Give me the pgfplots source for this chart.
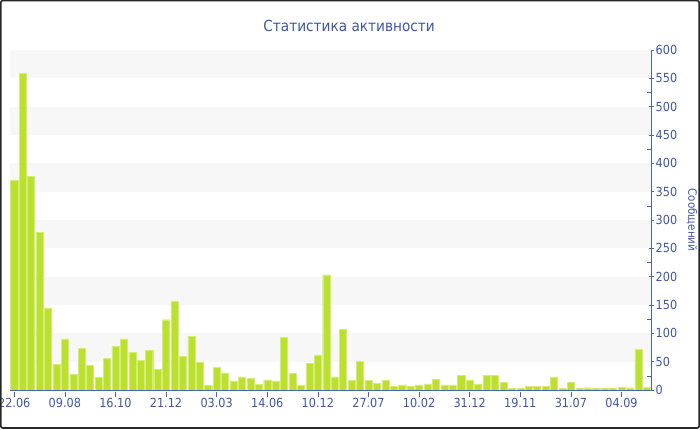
\documentclass[border=0pt]{standalone}
\usepackage{pgfplots}
\pgfplotsset{compat=1.18}
\usepackage{fontspec}
\setmainfont{DejaVu Sans}[FakeStretch=0.9]
\definecolor{txt}{RGB}{64,86,163}
\definecolor{axc}{RGB}{74,100,176}
\definecolor{barc}{RGB}{187,224,47}
\definecolor{baredge}{RGB}{212,237,118}
\definecolor{band}{RGB}{247,247,247}
\pgfplotstableread{
i v
0 370
1 559
2 377
3 278
4 145
5 46
6 90
7 28
8 73
9 43
10 23
11 56
12 77
13 90
14 67
15 52
16 70
17 37
18 124
19 156
20 59
21 95
22 49
23 8
24 40
25 30
26 16
27 23
28 20
29 10
30 18
31 16
32 93
33 29
34 9
35 47
36 62
37 203
38 23
39 107
40 17
41 50
42 17
43 12
44 17
45 7
46 9
47 7
48 9
49 11
50 19
51 9
52 9
53 26
54 18
55 11
56 26
57 26
58 13
59 3
60 3
61 7
62 7
63 7
64 23
65 3
66 14
67 3
68 4
69 3
70 3
71 3
72 5
73 4
74 72
75 5
}\activity
\begin{document}
\begin{tikzpicture}[x=1pt,y=1pt]
\useasboundingbox (0,0) rectangle (700,430);
\begin{axis}[
  at={(10pt,40pt)}, anchor=south west,
  scale only axis, width=641pt, height=340pt,
  xmin=-0.5, xmax=75.5, ymin=0, ymax=600,
  axis x line*=bottom, axis y line*=right,
  axis line style={axc, line width=0.8pt},
  ytick={0,50,...,600}, minor y tick num=1,
  xtick={0,6,...,72},
  xticklabels={22.06,09.08,16.10,21.12,03.03,14.06,10.12,27.07,10.02,31.12,19.11,31.07,04.09},
  /pgf/number format/assume math mode=true,
  tick style={axc, line width=0.6pt},
  tick align=center, major tick length=5pt, minor tick length=4pt,
  every major x tick/.append style={yshift=-2.5pt},
  every minor y tick/.append style={xshift=-2pt},
  ticklabel style={font=\fontsize{12.5}{14}\selectfont, text=txt},
  yticklabel style={anchor=west, inner sep=0pt, xshift=2pt, font=\fontsize{12.5}{14}\selectfont, text=txt},
  xticklabel style={anchor=north, inner sep=0pt, yshift=-3pt},
  ylabel={Сообщений},
  every axis y label/.style={at={(axis description cs:1.064,0.5)}, rotate=-90, anchor=center, font=\fontsize{11.5}{13}\selectfont, text=txt},
  title={Статистика активности},
  every axis title/.style={at={(axis description cs:0.529,1)}, anchor=base, yshift=18.5pt, font=\fontsize{15.2}{17}\selectfont, text=txt},
  ybar, bar width=0.84, bar shift=0pt,
]
\fill[band] (axis cs:-0.5,550) rectangle (axis cs:75.5,600);
\fill[band] (axis cs:-0.5,450) rectangle (axis cs:75.5,500);
\fill[band] (axis cs:-0.5,350) rectangle (axis cs:75.5,400);
\fill[band] (axis cs:-0.5,250) rectangle (axis cs:75.5,300);
\fill[band] (axis cs:-0.5,150) rectangle (axis cs:75.5,200);
\fill[band] (axis cs:-0.5,50) rectangle (axis cs:75.5,100);
\addplot[fill=barc, draw=baredge, line width=0.4pt] table[x=i, y=v] {\activity};
\end{axis}
\draw[line width=1.6pt, black!85, rounded corners=2pt] (0.8,2) rectangle (699.2,429.4);
\end{tikzpicture}
\end{document}
